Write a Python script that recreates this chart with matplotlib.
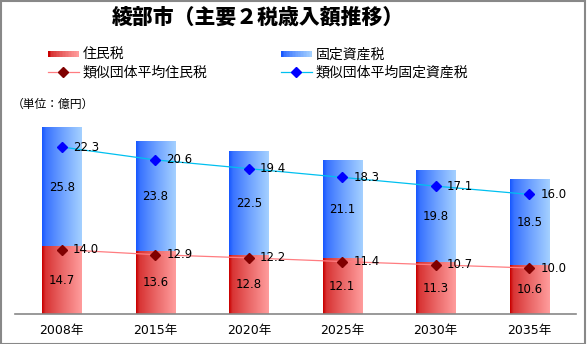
import matplotlib
matplotlib.use("Agg")
import matplotlib.pyplot as plt
import numpy as np
from matplotlib.colors import LinearSegmentedColormap
from matplotlib.legend_handler import HandlerBase
from matplotlib.lines import Line2D
from matplotlib.patches import Patch, Rectangle

plt.rcParams["font.family"] = ["Noto Sans CJK JP", "DejaVu Sans"]
NUM_FONT = ["DejaVu Sans", "Noto Sans CJK JP"]

# Data (億円)
years = ["2008年", "2015年", "2020年", "2025年", "2030年", "2035年"]
resident_tax = [14.7, 13.6, 12.8, 12.1, 11.3, 10.6]
property_tax = [25.8, 23.8, 22.5, 21.1, 19.8, 18.5]
avg_resident_tax = [14.0, 12.9, 12.2, 11.4, 10.7, 10.0]
avg_property_tax = [22.3, 20.6, 19.4, 18.3, 17.1, 16.0]

red_cmap = LinearSegmentedColormap.from_list(
    "red_grad", [(0, "#c80000"), (0.08, "#d83434"), (0.5, "#ea6666"),
                 (1, "#ff9c9c")])
blue_cmap = LinearSegmentedColormap.from_list(
    "blue_grad", [(0, "#1858ff"), (0.1, "#3a74ff"), (0.5, "#6ca0ff"),
                  (1, "#a4d0ff")])


class GradientHandler(HandlerBase):
    # legend swatch with a horizontal colour ramp
    def __init__(self, cmap, steps=20):
        super().__init__()
        self.cmap = cmap
        self.steps = steps

    def create_artists(self, legend, orig_handle, xdescent, ydescent,
                       width, height, fontsize, trans):
        arts = []
        h = height * 0.55
        y0 = -ydescent + (height - h) / 2
        w = width / self.steps
        for i in range(self.steps):
            r = Rectangle((-xdescent + i * w, y0), w * 1.05, h,
                          facecolor=self.cmap(i / (self.steps - 1)),
                          edgecolor="none", transform=trans)
            arts.append(r)
        return arts


W, H = 587, 344
fig = plt.figure(figsize=(W / 100, H / 100), dpi=100)
ax = fig.add_axes([15 / W, 30 / H, 561 / W, 207 / H])

x = np.arange(len(years))
bw = 0.42
ymax = 45
grad = np.linspace(0, 1, 64).reshape(1, -1)

for i in x:
    lo = resident_tax[i]
    hi = lo + property_tax[i]
    ax.imshow(grad, cmap=red_cmap, aspect="auto", interpolation="bilinear",
              extent=[i - bw / 2, i + bw / 2, 0, lo], zorder=1)
    ax.imshow(grad, cmap=blue_cmap, aspect="auto", interpolation="bilinear",
              extent=[i - bw / 2, i + bw / 2, lo, hi], zorder=1)
    ax.text(i, lo / 2, f"{resident_tax[i]:.1f}", ha="center", va="center",
            fontsize=8.5, family=NUM_FONT, zorder=5)
    ax.text(i, lo + property_tax[i] / 2, f"{property_tax[i]:.1f}",
            ha="center", va="center", fontsize=8.5, family=NUM_FONT,
            zorder=5)

# average lines: property tax line is stacked on the resident tax line
avg_stack = np.array(avg_resident_tax) + np.array(avg_property_tax)
ax.plot(x, avg_resident_tax, color="#ff7c80", lw=0.9, marker="D", ms=5.5,
        mfc="#800000", mec="#800000", zorder=3)
ax.plot(x, avg_stack, color="#00c0f0", lw=0.9, marker="D", ms=5.5,
        mfc="#0000ff", mec="#0000ff", zorder=3)
for i in x:
    ax.annotate(f"{avg_resident_tax[i]:.1f}", (i, avg_resident_tax[i]),
                xytext=(8, 0), textcoords="offset points", ha="left",
                va="center", fontsize=8.5, family=NUM_FONT, zorder=5)
    ax.annotate(f"{avg_property_tax[i]:.1f}", (i, avg_stack[i]),
                xytext=(8, 0), textcoords="offset points", ha="left",
                va="center", fontsize=8.5, family=NUM_FONT, zorder=5)

ax.set_xlim(-0.5, len(years) - 0.5)
ax.set_ylim(0, ymax)
ax.set_xticks(x)
ax.set_xticklabels(years, fontsize=9, family=NUM_FONT)
ax.tick_params(axis="x", length=0, pad=7)
ax.set_yticks([])
for side in ["top", "right", "left"]:
    ax.spines[side].set_visible(False)
ax.spines["bottom"].set_color("#888888")
ax.spines["bottom"].set_linewidth(1.2)

fig.text(258 / W, 1 - 17 / H, "綾部市（主要２税歳入額推移）", ha="center",
         va="center", fontsize=15, fontweight="heavy")
fig.text(12 / W, 1 - 104 / H, "（単位：億円）", ha="left", va="center",
         fontsize=8.5)

h_res = Patch(label="住民税")
h_prop = Patch(label="固定資産税")
h_avg_res = Line2D([], [], color="#ff7c80", lw=0.9, marker="D", ms=5.5,
                   mfc="#800000", mec="#800000", label="類似団体平均住民税")
h_avg_prop = Line2D([], [], color="#00c0f0", lw=0.9, marker="D", ms=5.5,
                    mfc="#0000ff", mec="#0000ff", label="類似団体平均固定資産税")
fig.legend(handles=[h_res, h_avg_res, h_prop, h_avg_prop], ncol=2,
           loc="upper left", bbox_to_anchor=(48 / W, 1 - 48 / H),
           frameon=False, fontsize=10, handlelength=2.2, handletextpad=0.3,
           labelspacing=0.28, columnspacing=5.3, borderpad=0,
           borderaxespad=0,
           handler_map={h_res: GradientHandler(red_cmap),
                        h_prop: GradientHandler(blue_cmap)})

fig.patches.append(Rectangle((0.5 / W, 0.5 / H), 1 - 2.5 / W, 1 - 1.5 / H,
                             transform=fig.transFigure, fill=False,
                             edgecolor="#888888", lw=1.5))

fig.savefig("out.png", dpi=100)
